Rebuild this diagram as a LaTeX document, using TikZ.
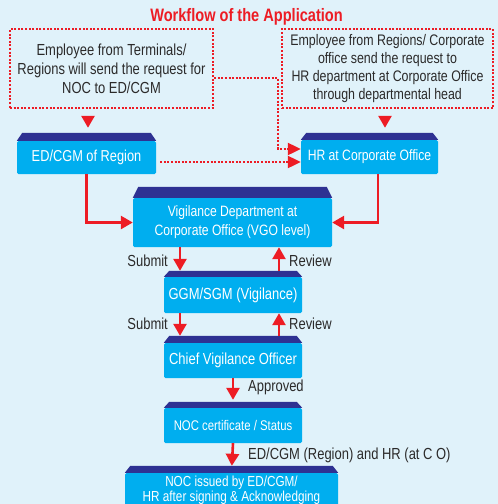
\documentclass[tikz,border=0pt]{standalone}
\usepackage{fontspec}
\setmainfont{Liberation Sans}[FakeStretch=0.81]
\usetikzlibrary{arrows.meta,calc}

\definecolor{bgc}{HTML}{E0F2FA}
\definecolor{redc}{HTML}{ED1C24}
\definecolor{cyanc}{HTML}{00AEEF}
\definecolor{bandc}{HTML}{2E3192}
\definecolor{txtc}{HTML}{2B2A2A}

% dark bevel strip on top of a step box: #1 node, #2 strip height
\newcommand\bandtop[2]{%
  \fill[bandc] (#1.north west) -- ([xshift=5.5pt,yshift=#2]#1.north west)
    -- ([xshift=-5.5pt,yshift=#2]#1.north east) -- (#1.north east) -- cycle;}

\tikzset{
  stepbox/.style={fill=cyanc, rounded corners=1.5pt, text=white, inner sep=0pt, align=center},
  notebox/.style={draw=redc, line width=2.2pt, dash pattern=on 2pt off 1.6pt,
    text=txtc, align=center, inner sep=0pt},
  dotline/.style={draw=redc, line width=2.2pt, dash pattern=on 2pt off 1.6pt,
    -{Triangle[length=13pt,width=12pt]}},
  flow/.style={draw=redc, line width=2.6pt, -{Triangle[length=12pt,width=13pt]}},
  lbl/.style={text=txtc, inner sep=0pt, font=\fontsize{16}{19}\selectfont},
}

\begin{document}
\begin{tikzpicture}[x=1pt,y=-1pt]
  \useasboundingbox (0,0) rectangle (498,504);
  \fill[bgc] (0,0) rectangle (498,504);
  \clip (0,0) rectangle (498,504);

  % heading
  \node[text=redc, inner sep=0pt, font=\fontsize{18}{21}\bfseries\selectfont] (title)
    at (246.5,16.5) {Workflow of the Application};

  % request notes
  \node[notebox, minimum width=203pt, minimum height=79pt, font=\fontsize{16}{19}\selectfont]
    (lbox) at (111.5,68.5) {Employee from Terminals/\\Regions will send the request for\\NOC to ED/CGM};
  \node[notebox, minimum width=211pt, minimum height=79pt, font=\fontsize{15.3}{18.3}\selectfont]
    (rbox) at (387.5,68.5) {Employee from Regions/ Corporate\\office send the request to\\HR department at Corporate Office\\through departmental head};

  % step boxes
  \node[stepbox, minimum width=139pt, minimum height=33pt, font=\fontsize{15.8}{19}\selectfont]
    (ed) at (86.5,157.5) {ED/CGM of Region};
  \node[stepbox, minimum width=137pt, minimum height=34pt, font=\fontsize{15}{18}\selectfont]
    (hr) at (369.5,157) {HR at Corporate Office};
  \node[stepbox, minimum width=199pt, minimum height=49pt, font=\fontsize{15}{19}\selectfont]
    (vig) at (232.5,222.5) {Vigilance Department at\\Corporate Office (VGO level)};
  \node[stepbox, minimum width=138pt, minimum height=36pt, font=\fontsize{16}{19}\selectfont]
    (ggm) at (233,295) {GGM/SGM (Vigilance)};
  \node[stepbox, minimum width=138pt, minimum height=35pt, font=\fontsize{16}{19}\selectfont]
    (cvo) at (233,360.5) {Chief Vigilance Officer};
  \node[stepbox, minimum width=138pt, minimum height=35pt, font=\fontsize{14}{17}\selectfont]
    (noc) at (233,425.5) {NOC certificate / Status};
  \node[stepbox, minimum width=213pt, minimum height=35pt, font=\fontsize{14.5}{15}\selectfont]
    (issued) at (231.5,490.5) {NOC issued by ED/CGM/\\HR after signing \& Acknowledging};

  \bandtop{ed}{8pt}
  \bandtop{hr}{7pt}
  \bandtop{vig}{11pt}
  \bandtop{ggm}{6pt}
  \bandtop{cvo}{7pt}
  \bandtop{noc}{6pt}
  \bandtop{issued}{7pt}

  % notes to first handlers
  \draw[flow, shorten <=7pt, shorten >=13pt] ([xshift=-23.5pt]lbox.south) -- ([xshift=-23.5pt]lbox.south |- ed.north);
  \draw[flow, shorten <=7pt, shorten >=12pt] ([xshift=-2.5pt]rbox.south) -- ([xshift=-2.5pt]rbox.south |- hr.north);

  % dotted routes to HR
  \coordinate (cbend) at (278,149);
  \draw[dotline] ([yshift=-9.5pt]lbox.east) -| (cbend) -- (hr.west |- cbend);
  \draw[dotline, shorten <=4pt] ([yshift=-4.5pt]ed.east) -- ([yshift=-4.5pt]ed.east -| hr.west);

  % into vigilance department
  \draw[flow] (ed.south) |- (vig.west);
  \draw[flow] ([xshift=8.5pt]hr.south) |- (vig.east);

  % submit / review loop
  \draw[flow, shorten >=6pt] ([xshift=-52.5pt]vig.south) -- ([xshift=-52.5pt]vig.south |- ggm.north);
  \draw[flow, shorten <=6pt] ([xshift=46.5pt]vig.south |- ggm.north) -- ([xshift=46.5pt]vig.south);
  \draw[flow, shorten >=7pt] ([xshift=-53pt]ggm.south) -- ([xshift=-53pt]ggm.south |- cvo.north);
  \draw[flow, shorten <=7pt] ([xshift=46pt]ggm.south |- cvo.north) -- ([xshift=46pt]ggm.south);

  \node[lbl, anchor=east] (sub1) at (168,261) {Submit};
  \node[lbl, anchor=west] (rev1) at (289,261) {Review};
  \node[lbl, anchor=east] (sub2) at (168,324) {Submit};
  \node[lbl, anchor=west] (rev2) at (289,324) {Review};

  % approval and issue
  \draw[flow, shorten >=8pt] (cvo.south) -- (noc.north);
  \draw[flow, shorten >=7pt] (noc.south) -- (issued.north);
  \node[lbl, anchor=west] (appr) at (248,387) {Approved};
  \node[lbl, anchor=west] (via) at (248,455) {ED/CGM (Region) and HR (at C O)};
\end{tikzpicture}
\end{document}
